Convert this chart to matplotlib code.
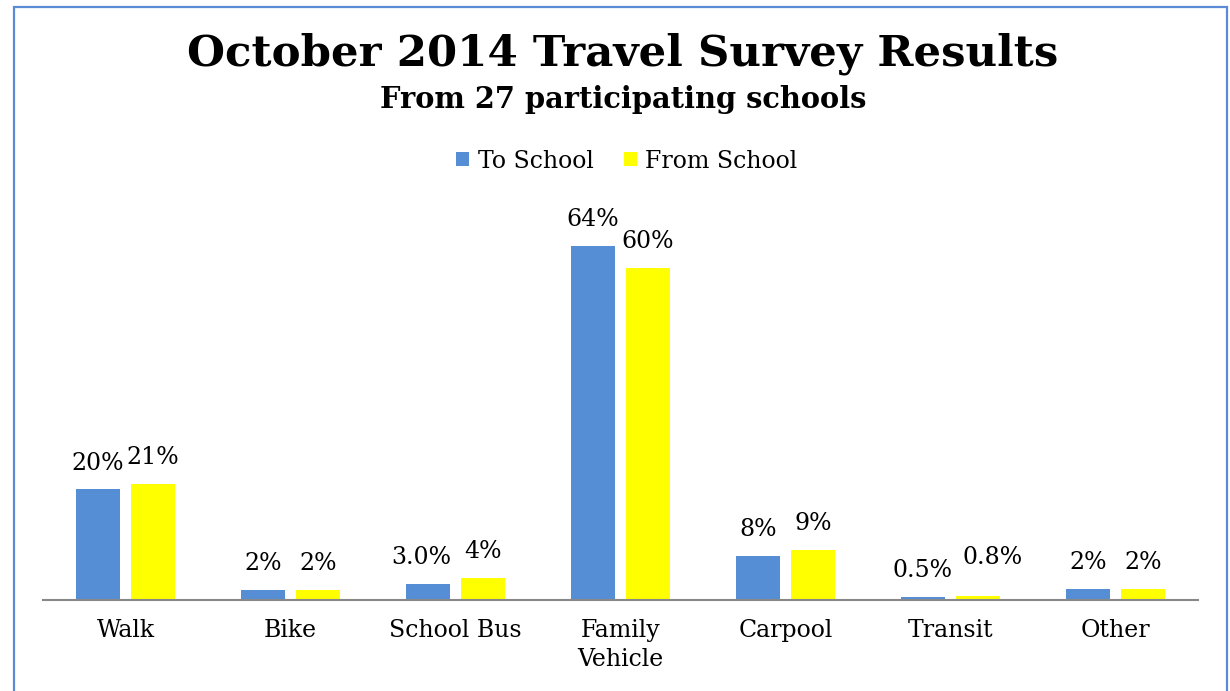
import matplotlib.pyplot as plt
from matplotlib.patches import Rectangle
import numpy as np

categories = ["Walk", "Bike", "School Bus", "Family\nVehicle", "Carpool", "Transit", "Other"]
to_school = [20, 1.8, 2.9, 64, 8, 0.5, 2]
from_school = [21, 1.8, 4, 60, 9, 0.8, 2]
to_labels = ["20%", "2%", "3.0%", "64%", "8%", "0.5%", "2%"]
from_labels = ["21%", "2%", "4%", "60%", "9%", "0.8%", "2%"]

blue = "#558ED5"
yellow = "#FFFF00"

plt.rcParams["font.family"] = ["DejaVu Serif"]

W, H = 1230, 691
fig = plt.figure(figsize=(W / 100, H / 100), dpi=100)

# outer border
fig.patches.append(
    Rectangle((14 / W, -0.01), 1213 / W, 1 - 7 / H + 0.01,
              transform=fig.transFigure, fill=False,
              edgecolor="#5B8BD6", linewidth=1.6)
)

ymax = 70
px_per_unit = 5.53
ax = fig.add_axes([43 / W, 1 - 600 / H, 1155 / W, ymax * px_per_unit / H])

x = np.arange(len(categories))
w = 0.265
off = 0.167

ax.bar(x - off, to_school, w, color=blue, label="To School")
ax.bar(x + off, from_school, w, color=yellow, label="From School")

# data labels, with a few manual nudges like the original
nudge_to = {2: (-7, 0)}
nudge_from = {5: (15, 12)}
for i in range(len(categories)):
    dx, dy = nudge_to.get(i, (0, 0))
    ax.annotate(to_labels[i], (x[i] - off, to_school[i]),
                xytext=(dx * 0.72, 19 + dy * 0.72), textcoords="offset points",
                ha="center", va="center", fontsize=17)
    dx, dy = nudge_from.get(i, (0, 0))
    ax.annotate(from_labels[i], (x[i] + off, from_school[i]),
                xytext=(dx * 0.72, 19 + dy * 0.72), textcoords="offset points",
                ha="center", va="center", fontsize=17)

ax.set_xlim(-0.5, len(categories) - 0.5)
ax.set_ylim(0, ymax)
ax.set_xticks(x)
ax.set_xticklabels(categories, fontsize=17, va="top", linespacing=1.3)
ax.tick_params(axis="x", length=0, pad=14)
ax.set_yticks([])
for s in ["top", "right", "left"]:
    ax.spines[s].set_visible(False)
ax.spines["bottom"].set_color("#888888")
ax.spines["bottom"].set_linewidth(1.5)

fig.text(623 / W, 1 - 54 / H, "October 2014 Travel Survey Results",
         ha="center", va="center", fontsize=31.3, fontweight="bold")
fig.text(623 / W, 1 - 100 / H, "From 27 participating schools",
         ha="center", va="center", fontsize=20.8, fontweight="bold")

fig.legend(loc="center", bbox_to_anchor=(627 / W, 1 - 161 / H), ncol=2,
           frameon=False, fontsize=17, handlelength=0.55, handleheight=0.55,
           handletextpad=0.35, columnspacing=1.3)

fig.savefig("out.png", dpi=100)
